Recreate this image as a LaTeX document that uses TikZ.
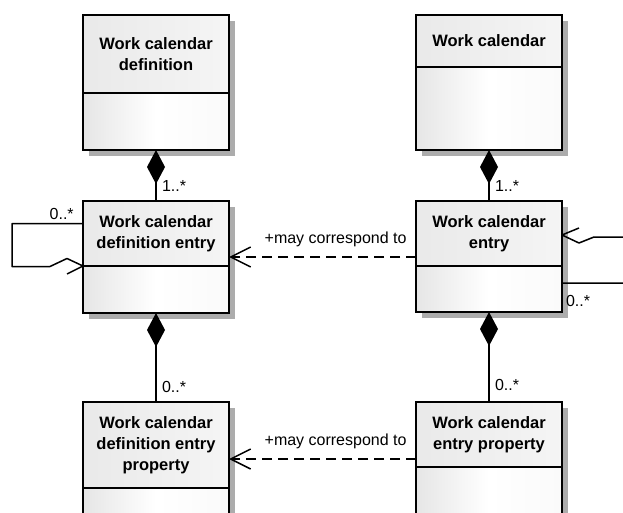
\documentclass[tikz,border=0pt]{standalone}
\usepackage{fontspec}
\setmainfont{Liberation Sans}
\usepackage{tikz}
\usetikzlibrary{arrows.meta, positioning, backgrounds}

\begin{document}
\begin{tikzpicture}[
  x=1pt, y=-1pt,
  node distance=0pt,
  head/.style={rectangle, draw, line width=1.5pt, outer sep=0pt, minimum width=146pt,
    left color=gray!17, right color=gray!8, align=center,
    font=\bfseries\fontsize{16.5}{21}\selectfont},
  body/.style={rectangle, draw, line width=1.5pt, outer sep=0pt, minimum width=146pt,
    left color=gray!20, right color=gray!4, middle color=white},
  shadowfill/.style={fill=gray!65},
  comp/.style={{Diamond[length=34pt,width=18pt]}-, line width=1.5pt},
  dep/.style={-{Straight Barb[length=20pt,width=20pt]}, dash pattern=on 10pt off 6pt, line width=1.5pt},
  loop/.style={line width=1.5pt, line join=round},
  lbl/.style={font=\fontsize{16}{19}\selectfont}
]
  \useasboundingbox (0,0) rectangle (623,513);

  % classes
  \node[head, minimum height=78pt, anchor=north] (wcdh) at (156,15) {Work calendar\\definition};
  \node[body, minimum height=57pt, below=of wcdh] (wcdb) {};
  \node[head, minimum height=52pt, anchor=north] (wch) at (489,15) {Work calendar};
  \node[body, minimum height=83pt, below=of wch] (wcb) {};

  \node[head, minimum height=65pt, anchor=north] (wcdeh) at (156,201) {Work calendar\\definition entry};
  \node[body, minimum height=47pt, below=of wcdeh] (wcdeb) {};
  \node[head, minimum height=65pt, anchor=north] (wceh) at (489,201) {Work calendar\\entry};
  \node[body, minimum height=46pt, below=of wceh] (wceb) {};

  \node[head, minimum height=86pt, anchor=north] (wcdeph) at (156,402) {Work calendar\\definition entry\\property};
  \node[body, minimum height=50pt, below=of wcdeph] (wcdepb) {};
  \node[head, minimum height=65pt, anchor=north] (wceph) at (489,402) {Work calendar\\entry property};
  \node[body, minimum height=70pt, below=of wceph] (wcepb) {};

  % shadows
  \begin{scope}[on background layer]
    \foreach \h/\b in {wcdh/wcdb, wch/wcb, wcdeh/wcdeb, wceh/wceb, wcdeph/wcdepb, wceph/wcepb}
      \fill[shadowfill] ([shift={(6pt,-6pt)}]\h.north west) rectangle ([shift={(6pt,-6pt)}]\b.south east);
  \end{scope}

  % compositions
  \draw[comp] (wcdb.south) -- (wcdeh.north) node[lbl, pos=0.7, right=2pt] {1..*};
  \draw[comp] (wcb.south) -- (wceh.north) node[lbl, pos=0.7, right=2pt] {1..*};
  \draw[comp] (wcdeb.south) -- (wcdeph.north) node[lbl, pos=0.83, right=2pt] {0..*};
  \draw[comp] (wceb.south) -- (wceph.north) node[lbl, pos=0.81, right=2pt] {0..*};

  % self associations
  \draw[loop] ([yshift=10pt]wcdeh.west) -- ++(-71,0) node[lbl, pos=0.3, above=0pt] {0..*}
    -- ++(0,43) -- ++(38,0) -- ++(17,-8) -- (wcdeh.south west) -- ++(-16,8);
  \draw[loop] ([yshift=6pt]wceb.east) -- ++(80,0) node[lbl, pos=0.2, below=8pt] {0..*}
    -- ++(0,-46) -- ++(-48,0) -- ++(-15,6) -- ([yshift=-1.5pt]wceh.east) -- ++(17,-7);

  % dependencies
  \draw[dep] ([yshift=-23.5pt]wceh.west) -- ([yshift=-23.5pt]wcdeh.east)
    node[lbl, pos=0.43, above=6pt] {+may correspond to};
  \draw[dep] ([yshift=-24.5pt]wceph.west) -- ([yshift=-14pt]wcdeph.east)
    node[lbl, pos=0.43, above=6pt] {+may correspond to};
\end{tikzpicture}
\end{document}
